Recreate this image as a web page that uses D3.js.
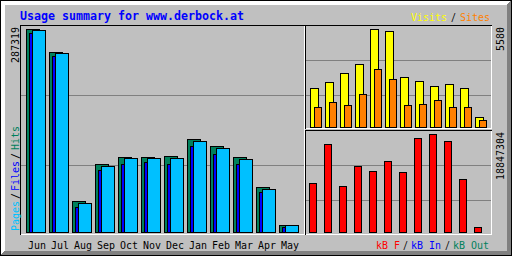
<!DOCTYPE html>
<html><head><meta charset="utf-8">
<script src="https://cdn.jsdelivr.net/npm/d3@7"></script>
<style>html,body{margin:0;padding:0;background:#fff;overflow:hidden}svg{display:block}</style>
</head><body>
<script>
const title = "Usage summary for www.derbock.at";
const months = ["Jun","Jul","Aug","Sep","Oct","Nov","Dec","Jan","Feb","Mar","Apr","May"];
const hits   = [287319, 254340, 43880, 96240, 105730, 105730, 107140, 131200, 121720, 105730, 63270, 9480];
const pages  = [285900, 252930, 41050, 93410, 104310, 104310, 104310, 128370, 118470, 102900, 60440, 9200];
const files  = [281660, 249100, 35380, 87750, 96240, 98650, 96240, 121300, 110400, 96240, 56610, 6650];
const visits = [2203, 2562, 3075, 3587, 5580, 5449, 2830, 2602, 2317, 2431, 2203, 552];
const sites  = [1122, 1406, 1236, 1879, 3285, 2716, 1236, 1292, 1520, 1122, 1122, 381];
const kbytes = [9370000, 16860000, 8790000, 12640000, 11670000, 13600000, 11480000, 18020000, 18847304, 17440000, 10130000, 900000];
const maxLabels = {hits: "287319", visits: "5580", kbytes: "18847304"};

const C = {grey:"#C0C0C0", dk:"#808080", black:"#000000", white:"#FFFFFF", blue:"#0000FF",
  hit:"#00805C", file:"#0000FF", page:"#00C0FF", visit:"#FFFF00", site:"#FF8000", kb:"#FF0000"};
const FONT = "'DejaVu Sans Mono', 'Liberation Mono', monospace";

const svg = d3.select("body").append("svg").attr("width",512).attr("height",256)
  .attr("shape-rendering","crispEdges");

function px(x,y,w,h,c){ svg.append("rect").attr("x",x).attr("y",y).attr("width",w).attr("height",h).attr("fill",c); }
function hline(x1,x2,y,c){ px(x1,y,x2-x1+1,1,c); }
function vline(x,y1,y2,c){ px(x,y1,1,y2-y1+1,c); }
function box(x1,y1,x2,y2,fill){
  svg.append("rect").attr("x",x1+0.5).attr("y",y1+0.5).attr("width",x2-x1).attr("height",y2-y1)
    .attr("fill",fill).attr("stroke",C.black).attr("stroke-width",1);
}

// background and shadow frame
px(0,0,512,256,C.grey);
for(let i=0;i<5;i++){
  hline(i,511-i,i,C.white);
  vline(i,i,255-i,C.white);
  hline(i,511-i,255-i,C.dk);
  vline(511-i,i,255-i,C.dk);
}
svg.append("rect").attr("x",0.5).attr("y",0.5).attr("width",511).attr("height",255)
  .attr("fill","none").attr("stroke",C.black);

// panels
hline(20,304,25,C.black); vline(20,25,234,C.black); hline(21,304,234,C.white); vline(304,26,234,C.white);
hline(305,491,25,C.black); vline(305,25,128,C.black); hline(306,491,128,C.white); vline(491,26,128,C.white);
hline(305,491,130,C.black); vline(305,130,234,C.black); hline(306,491,234,C.white); vline(491,131,234,C.white);

// gridlines
[95,165].forEach(y=>hline(21,303,y,C.dk));
[60,95].forEach(y=>hline(306,490,y,C.dk));
[165,200].forEach(y=>hline(306,490,y,C.dk));

// scales
const xMain = d3.scaleBand().domain(months).range([26, 26+12*23]);
const xSide = d3.scaleBand().domain(months).range([310, 310+12*15]);
const yHits = d3.scaleLinear().domain([0, d3.max(hits)]).range([232, 29]);
const yVis  = d3.scaleLinear().domain([0, d3.max(visits)]).range([127, 29]);
const yKB   = d3.scaleLinear().domain([0, d3.max(kbytes)]).range([232, 134]);

months.forEach((m,i)=>{
  const x = xMain(m);
  box(x, Math.round(yHits(hits[i])), x+13, 232, C.hit);
  box(x+3, Math.round(yHits(files[i])), x+16, 232, C.file);
  box(x+6, Math.round(yHits(pages[i])), x+19, 232, C.page);
  const xs = xSide(m);
  box(xs, Math.round(yVis(visits[i])), xs+8, 127, C.visit);
  box(xs+4, Math.round(yVis(sites[i])), xs+11, 127, C.site);
  box(xs-1, Math.round(yKB(kbytes[i])), xs+6, 232, C.kb);
});

// text helpers
function txt(x,y,s,color,opts={}){
  const size = opts.size || 11, cw = opts.cw || 6;
  const t = svg.append("text").attr("font-family",FONT).attr("font-size",size)
    .attr("font-weight",opts.bold?"bold":"normal").attr("fill",color)
    .attr("textLength", cw*s.length).attr("lengthAdjust","spacingAndGlyphs")
    .attr("shape-rendering","auto").text(s);
  if(opts.up){
    t.attr("transform",`translate(${x},${y}) rotate(-90)`).attr("x",0).attr("y",0);
  } else {
    t.attr("x",x).attr("y",y);
  }
  return t;
}

// title
txt(20,20,title,C.blue,{bold:true,size:12.5,cw:7});

// month labels
months.forEach(m=> txt(xMain(m)+2, 249, m, C.black));

// max value labels (rotated)
txt(19, 27+6*maxLabels.hits.length, maxLabels.hits, C.black, {up:true});
txt(504, 27+6*maxLabels.visits.length, maxLabels.visits, C.black, {up:true});
txt(504, 132+6*maxLabels.kbytes.length, maxLabels.kbytes, C.black, {up:true});

// left legend (rotated)
txt(19, 231, "Pages", C.page, {up:true});
txt(19, 199, "/", C.black, {up:true});
txt(19, 191, "Files", C.file, {up:true});
txt(19, 159, "/", C.black, {up:true});
txt(19, 150, "Hits", C.hit, {up:true});

// top right legend
txt(411, 21, "Visits", C.visit);
txt(451, 21, "/", C.black, {cw:5});
txt(460, 21, "Sites", C.site);

// bottom right legend
txt(376, 249, "kB F", C.kb);
txt(403, 249, "/", C.black, {cw:5});
txt(411, 249, "kB In", C.blue);
txt(445, 249, "/", C.black, {cw:5});
txt(453, 249, "kB Out", C.hit);
</script>
</body></html>
